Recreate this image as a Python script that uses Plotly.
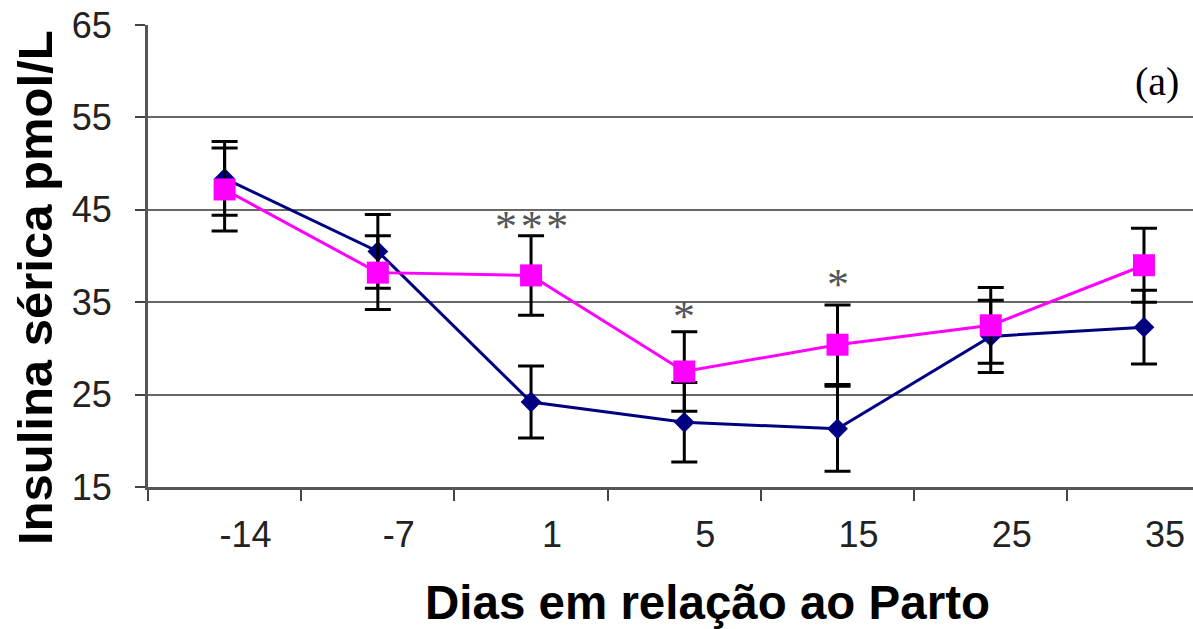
import plotly.graph_objects as go

days = ["-14", "-7", "1", "5", "15", "25", "35"]
blue_vals = [48.4, 40.5, 24.2, 22.0, 21.3, 31.3, 32.3]
blue_err = [4.0, 4.0, 3.9, 4.3, 4.6, 3.9, 4.0]
pink_vals = [47.2, 38.2, 37.9, 27.5, 30.4, 32.5, 39.0]
pink_err = [4.5, 4.0, 4.3, 4.3, 4.3, 4.1, 4.0]
y_ticks = [15, 25, 35, 45, 55, 65]
sig_days = ["1", "5", "15"]
sig_text = ["*\u200a*\u200a*", "*", "*"]
sig_y = [43.2, 33.4, 36.9]

fig = go.Figure()
fig.add_trace(go.Scatter(
    x=days, y=blue_vals, mode="lines+markers",
    line=dict(color="#000080", width=3),
    marker=dict(symbol="diamond", size=16, color="#000080"),
    error_y=dict(type="data", array=blue_err, color="black", thickness=3, width=13),
    showlegend=False))
fig.add_trace(go.Scatter(
    x=days, y=pink_vals, mode="lines+markers",
    line=dict(color="#FF00FF", width=3),
    marker=dict(symbol="square", size=22, color="#FF00FF"),
    error_y=dict(type="data", array=pink_err, color="black", thickness=3, width=13),
    showlegend=False))

for d, t, yv in zip(sig_days, sig_text, sig_y):
    fig.add_annotation(x=days.index(d), y=yv, text=t, showarrow=False, xref="x", yref="y",
                       font=dict(family="Liberation Serif", size=44, color="#555555"),
                       yanchor="middle")

fig.add_annotation(x=0.9655, y=0.877, xref="paper", yref="paper", text="(a)",
                   showarrow=False, xanchor="center", yanchor="middle",
                   font=dict(family="Liberation Serif", size=40, color="black"))
fig.add_annotation(x=0.535, y=-0.25, xref="paper", yref="paper", text="<b>Dias em relação ao Parto</b>",
                   showarrow=False, yanchor="middle",
                   font=dict(family="Liberation Sans", size=47.5, color="black"))
fig.add_annotation(x=-0.108, y=0.431, xref="paper", yref="paper", text="<b>Insulina sérica pmol/L</b>",
                   showarrow=False, textangle=-90, xanchor="center", yanchor="middle",
                   font=dict(family="Liberation Sans", size=49, color="black"))

fig.update_layout(
    width=1193, height=629,
    margin=dict(l=148, r=0, t=25, b=142),
    paper_bgcolor="white", plot_bgcolor="white",
    xaxis=dict(type="category", categoryorder="array", categoryarray=days, automargin=False,
               range=[-0.5, 6.32], tickson="boundaries", ticks="outside", ticklen=11,
               tickwidth=2, tickcolor="#444", showline=True, linecolor="#555", linewidth=3,
               showgrid=False, ticklabelstandoff=14, ticklabelshift=21, ticklabeloverflow="allow",
               tickfont=dict(family="Liberation Sans", size=36, color="#222")),
    yaxis=dict(range=[15, 65], tickvals=y_ticks, ticks="outside", ticklen=10, automargin=False,
               tickwidth=2, tickcolor="#444", showline=True, linecolor="#555", linewidth=3,
               showgrid=True, gridcolor="#666", gridwidth=2, zeroline=False, ticklabelstandoff=16,
               ticklabeloverflow="allow",
               tickfont=dict(family="Liberation Sans", size=36, color="#222")),
)

fig.write_html("out.html", config={"displayModeBar": False},
               post_script="document.body.style.margin='0';")
